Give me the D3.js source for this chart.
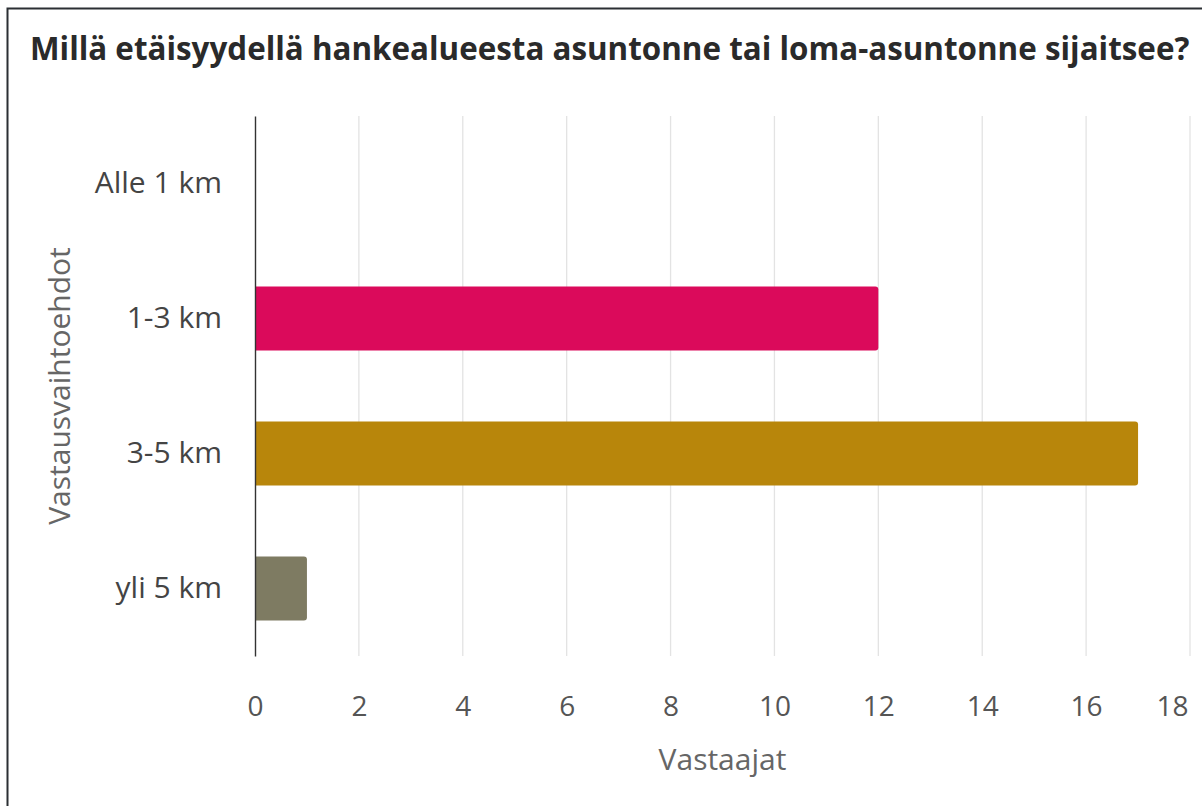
<!DOCTYPE html>
<html>
<head>
<meta charset="utf-8">
<script src="https://cdn.jsdelivr.net/npm/d3@7"></script>
<style>
  html, body { margin: 0; padding: 0; background: #fff; }
  svg { display: block; }
</style>
</head>
<body>
<svg id="chart" width="1202" height="806"></svg>
<script>
// Chart data
const categories = ['Alle 1 km', '1-3 km', '3-5 km', 'yli 5 km'];
const values = [0, 12, 17, 1];
const colors = ['#3b6ea8', '#db0a5b', '#b8860b', '#7e7b62'];
const xTicks = [0, 2, 4, 6, 8, 10, 12, 14, 16, 18];

const title = 'Millä etäisyydellä hankealueesta asuntonne tai loma-asuntonne sijaitsee?';
const yTitle = 'Vastausvaihtoehdot';
const xTitle = 'Vastaajat';

const fontFamily = '"Open Sans", "Noto Sans", sans-serif';

const svg = d3.select('#chart');

// outer frame (runs off the right and bottom edges)
svg.append('rect')
  .attr('x', 7.5).attr('y', 8.5)
  .attr('width', 1220).attr('height', 820)
  .attr('fill', '#fff')
  .attr('stroke', '#2b2f33')
  .attr('stroke-width', 2);

const margin = { top: 116, right: 12, bottom: 150, left: 255 };
const width = 1190 - margin.left;
const height = 656 - margin.top;

const g = svg.append('g')
  .attr('transform', `translate(${margin.left},${margin.top})`);

const x = d3.scaleLinear().domain([0, 18]).range([0, width]);
const y = d3.scaleBand().domain(categories).range([0, height])
  .paddingInner(0.526).paddingOuter(0.263);

// vertical gridlines
g.selectAll('.grid')
  .data(xTicks.slice(1))
  .enter().append('line')
  .attr('x1', d => x(d)).attr('x2', d => x(d))
  .attr('y1', 0).attr('y2', height)
  .attr('stroke', '#e3e3e3')
  .attr('stroke-width', 1.3);

// bars, rounded on the value end only
const r = 3;
g.selectAll('.bar')
  .data(categories.map((c, i) => ({ c, v: values[i], col: colors[i] })).filter(d => d.v > 0))
  .enter().append('path')
  .attr('fill', d => d.col)
  .attr('d', d => {
    const x0 = x(0), x1 = x(d.v), y0 = y(d.c), h = y.bandwidth();
    return `M${x0},${y0}H${x1 - r}Q${x1},${y0} ${x1},${y0 + r}V${y0 + h - r}Q${x1},${y0 + h} ${x1 - r},${y0 + h}H${x0}Z`;
  });

// y axis
const yAxis = g.append('g').call(d3.axisLeft(y).tickSize(0).tickPadding(33));
yAxis.select('.domain').attr('stroke', '#333').attr('stroke-width', 1.4);
yAxis.selectAll('text')
  .attr('font-family', fontFamily)
  .attr('font-size', 30)
  .attr('fill', '#444');

// x axis
const xAxis = g.append('g')
  .attr('transform', `translate(0,${height})`)
  .call(d3.axisBottom(x).tickValues(xTicks).tickSize(0).tickPadding(40));
xAxis.select('.domain').remove();
xAxis.selectAll('text')
  .attr('font-family', fontFamily)
  .attr('font-size', 28)
  .attr('fill', '#555');
// last label is pulled inside the plot edge
xAxis.selectAll('.tick')
  .filter(d => d === xTicks[xTicks.length - 1])
  .select('text')
  .attr('text-anchor', 'end')
  .attr('x', -2);

// axis titles
svg.append('text')
  .attr('transform', `translate(70,${margin.top + height / 2}) rotate(-90)`)
  .attr('text-anchor', 'middle')
  .attr('font-family', fontFamily)
  .attr('font-size', 30)
  .attr('fill', '#666')
  .text(yTitle);

svg.append('text')
  .attr('x', margin.left + width / 2)
  .attr('y', 770)
  .attr('text-anchor', 'middle')
  .attr('font-family', fontFamily)
  .attr('font-size', 30)
  .attr('fill', '#666')
  .text(xTitle);

// title, fitted to the width it takes in the reference
const t = svg.append('text')
  .attr('x', 30).attr('y', 60)
  .attr('font-family', fontFamily)
  .attr('font-weight', 700)
  .attr('font-size', 23)
  .attr('fill', '#2a2a2a')
  .text(title);
const tw = t.node().getComputedTextLength();
t.attr('font-size', 23 * 1160 / tw);
</script>
</body>
</html>
